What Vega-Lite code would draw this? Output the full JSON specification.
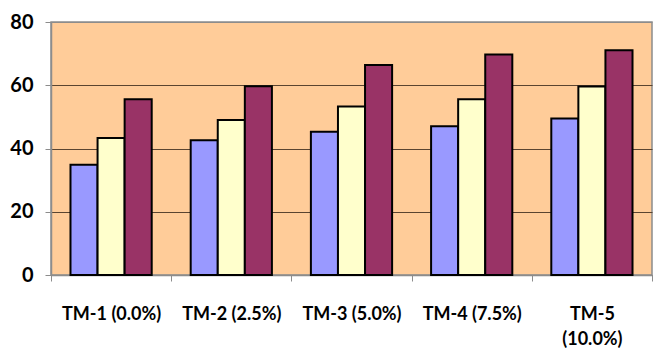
{
  "$schema": "https://vega.github.io/schema/vega-lite/v6.json",
  "width": 601,
  "height": 253,
  "autosize": {"type": "none"},
  "padding": {"left": 51, "top": 22, "right": 11, "bottom": 80},
  "background": "white",
  "config": {
    "view": {"fill": "#FFCC99", "stroke": "#8c8c8c", "strokeWidth": 1.5},
    "font": "Lato"
  },
  "data": {
    "values": [
      {"group": "TM-1 (0.0%)", "series": "A", "value": 34.9},
      {"group": "TM-1 (0.0%)", "series": "B", "value": 43.3},
      {"group": "TM-1 (0.0%)", "series": "C", "value": 55.6},
      {"group": "TM-2 (2.5%)", "series": "A", "value": 42.6},
      {"group": "TM-2 (2.5%)", "series": "B", "value": 49.0},
      {"group": "TM-2 (2.5%)", "series": "C", "value": 59.7},
      {"group": "TM-3 (5.0%)", "series": "A", "value": 45.3},
      {"group": "TM-3 (5.0%)", "series": "B", "value": 53.3},
      {"group": "TM-3 (5.0%)", "series": "C", "value": 66.4},
      {"group": "TM-4 (7.5%)", "series": "A", "value": 47.0},
      {"group": "TM-4 (7.5%)", "series": "B", "value": 55.6},
      {"group": "TM-4 (7.5%)", "series": "C", "value": 69.7},
      {"group": "TM-5 (10.0%)", "series": "A", "value": 49.5},
      {"group": "TM-5 (10.0%)", "series": "B", "value": 59.6},
      {"group": "TM-5 (10.0%)", "series": "C", "value": 71.1}
    ]
  },
  "mark": {"type": "bar", "stroke": "black", "strokeWidth": 2},
  "encoding": {
    "x": {
      "field": "group",
      "type": "nominal",
      "sort": null,
      "title": null,
      "scale": {"paddingInner": 0, "paddingOuter": 0},
      "axis": {
        "tickBand": "extent",
        "labelAngle": 0,
        "labelFont": "Lato",
        "labelFontWeight": "bold",
        "labelFontSize": 18,
        "labelColor": "black",
        "labelPadding": 24,
        "labelLineHeight": 25,
        "labelExpr": "datum.label == 'TM-5 (10.0%)' ? ['TM-5', '(10.0%)'] : datum.label",
        "tickSize": 6,
        "tickColor": "#8c8c8c",
        "domainColor": "#8c8c8c",
        "domainWidth": 1.5,
        "grid": false
      }
    },
    "xOffset": {
      "field": "series",
      "type": "nominal",
      "scale": {"paddingInner": 0, "paddingOuter": 0.72}
    },
    "y": {
      "field": "value",
      "type": "quantitative",
      "title": null,
      "scale": {"domain": [0, 80], "nice": false},
      "axis": {
        "values": [0, 20, 40, 60, 80],
        "labelFont": "Lato",
        "labelFontWeight": "bold",
        "labelFontSize": 20,
        "labelColor": "black",
        "labelPadding": 12,
        "tickSize": 6,
        "tickColor": "#8c8c8c",
        "domainColor": "#8c8c8c",
        "domainWidth": 1.5,
        "grid": true,
        "gridColor": {"condition": {"test": "datum.value == 80", "value": "#8c8c8c"}, "value": "#5a4430"},
        "gridWidth": 1.2
      }
    },
    "color": {
      "field": "series",
      "type": "nominal",
      "legend": null,
      "scale": {"domain": ["A", "B", "C"], "range": ["#9999FF", "#FFFFCC", "#993366"]}
    }
  }
}
